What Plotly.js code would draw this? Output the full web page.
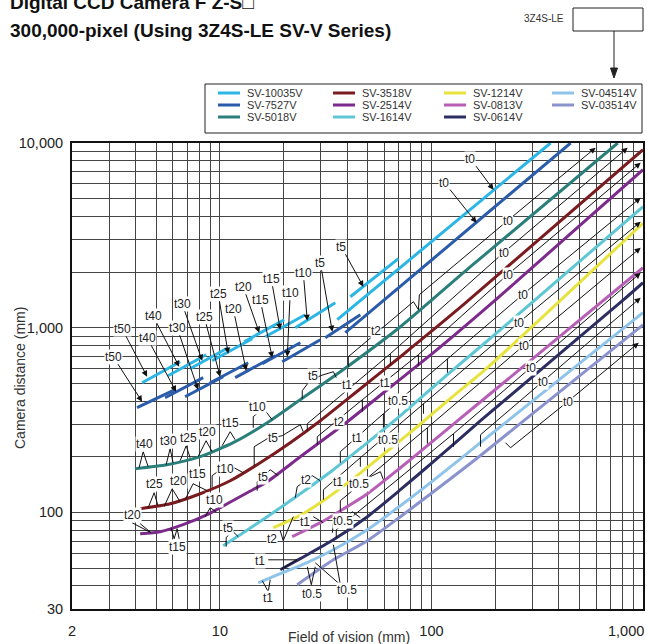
<!DOCTYPE html>
<html><head><meta charset="utf-8">
<script src="https://cdn.plot.ly/plotly-3.0.1.min.js"></script>
<style>html,body{margin:0;padding:0;background:#fff}#chart{width:647px;height:644px}</style>
</head><body><div id="chart"></div>
<script>
// ---------- data (field of vision mm, camera distance mm) ----------
const lensNames = ['SV-10035V','SV-7527V','SV-5018V','SV-3518V','SV-2514V','SV-1614V','SV-1214V','SV-0813V','SV-0614V','SV-04514V','SV-03514V'];
const lensColors = ['#2bb6e6','#2a5caa','#2a7f7b','#7a1b1f','#7c2b8c','#5ec6d4','#e7e33c','#b75fb6','#2c2e62','#8fc4ea','#8b93cf'];

const sv10035X = [4.29,6.49,null,5.69,8.61,null,7.23,10.95,null,9.19,14.22,null,13.03,20.15,null,16.38,25.33,null,22.72,35.13,null,41.37,69.8,null,35.9,365.8];
const sv10035Y = [503.7,654.5,null,549.7,714.3,null,599.8,779.3,null,662.7,871.7,null,840,1105,null,894,1176,null,1000,1366,null,1472,2364,null,1105,10000];
const sv7527X = [4.06,6.14,null,5.51,8.34,null,6.85,10.36,null,9.00,13.61,null,11.81,18.27,null,15.86,23.99,null,19.71,29.84,null,31.5,46.13,null,39.15,454.9];
const sv7527Y = [368.9,461.8,null,417.8,536.3,null,422.9,543.0,null,503.7,646.3,null,536.3,705.2,null,638.3,829.3,null,654.5,861.1,null,882.5,1176,null,939.5,10000];
const sv5018X = [3.97,5.63,8.07,11.56,16.74,23.99,40.04,71.33,152.9,760];
const sv5018Y = [172.5,181.1,200.3,238.5,306,407.7,615,1012,2139,10000];
const sv3518X = [4.20,5.82,8.07,11.19,15.51,21.51,29.84,46.13,71.33,141.7,1000];
const sv3518Y = [104.7,111.4,126.2,148.4,185.8,238.5,313.7,467.4,696.6,1332,9200];
const sv2514X = [4.20,5.22,6.70,8.71,10.83,13.47,16.74,23.99,40.04,66.1,102.2,196.6,1000];
const sv2514Y = [76.7,78.6,85.8,97.2,111.4,127.8,146.6,200.3,309.8,491.2,732.2,1383,7170];
const sv1614X = [10.36,12.48,16.74,23.99,34.4,49.8,71.33,119.0,212.1,1000];
const sv1614Y = [66.0,75.6,94.8,126.2,170.3,238.5,334.1,556.7,975.4,4520];
const sv1214X = [17.87,23.99,29.84,42.7,59.3,85.9,123.0,184.1,1000];
const sv1214Y = [82.6,96.4,112.8,152.5,206.6,291.8,414.5,608.5,3676];
const sv0813X = [21.98,23.99,29.84,35.9,49.8,71.33,95.7,127.1,212.1,1000];
const sv0813Y = [73.9,77.6,88.0,99.7,126.2,174.6,229.7,300.5,488.0,2113];
const sv0614X = [19.29,23.99,34.4,49.8,71.33,102.2,170.6,810.3,1000];
const sv0614Y = [48.9,56.2,71.1,94.8,132.7,188.2,313.7,1418,1752];
const sv04514X = [15.18,19.29,23.99,34.4,49.8,71.33,102.2,170.6,1000];
const sv04514Y = [41.6,46.6,51.5,62.8,80.6,108.7,149.1,238.5,1206];
const sv03514X = [23.2,34.4,49.8,71.33,102.2,170.6,1000];
const sv03514Y = [40.6,55.4,70.3,94.8,129.4,203.4,1037];

const lensX = [sv10035X,sv7527X,sv5018X,sv3518X,sv2514X,sv1614X,sv1214X,sv0813X,sv0614X,sv04514X,sv03514X];
const lensY = [sv10035Y,sv7527Y,sv5018Y,sv3518Y,sv2514Y,sv1614Y,sv1214Y,sv0813Y,sv0614Y,sv04514Y,sv03514Y];

// axis ticks
const xGrid = [2,3,4,5,6,7,8,9,10,20,30,40,50,60,70,80,90,100,200,300,400,500,600,700,800,900,1000];
const xLabels = {2:'2',10:'10',100:'100'};
const xLastLabel = '1,000';
const yGrid = [30,40,50,60,70,80,90,100,200,300,400,500,600,700,800,900,1000,2000,3000,4000,5000,6000,7000,8000,9000,10000];
const yLabels = {30:'30',100:'100',1000:'1,000',10000:'10,000'};

// labels with arrows: text, label position, arrow tip (data units)
const arrowText   = ['t50','t40','t30','t25','t20','t15','t10','t5','t0', 't50','t40','t30','t25','t20','t15','t10','t5','t0'];
const arrowLabelX = [3.45,4.83,6.63,9.82,12.89,17.49,24.79,37.51,152.9, 3.13,4.53,6.28,8.43,11.56,15.51,21.51,29.84,115.2];
const arrowLabelY = [987.6,1161,1349,1528,1667,1842,1985,2745,8222, 696.6,882.5,1000,1147,1268,1418,1547,2248,6098];
const arrowTipX   = [4.53,6.42,8.25,10.95,15.35,19.29,25.89,47.66,196.6, 4.29,6.21,7.89,10.03,13.32,17.68,20.82,34.01,163.3];
const arrowTipY   = [543.0,615,662.7,723.2,939.5,975.4,1091,1667,5588, 397.6,450.4,461.8,543.0,585,688,696.6,951.3,3703];

// t0 labels with arrows to the right edge
const t0LabelX = [228.9,219.1,228.9,269.6,258.1,272.5,294.2,335.2,440.3];
const t0LabelY = [3796,2547,1936,1509,1064,799.2,607.4,510.2,397.6];
const t0TipX   = [597.2,846.6,975.2,975.2,975.2,975.2,975.2,975.2,954.4];
const t0TipY   = [9432,9432,7823,5056,3749,2711,1985,1454,829.3];

// plain labels
const tubeText = ['t40','t30','t25','t20','t15','t10','t5','t2', 't25','t20','t15','t10','t5','t1', 't20','t15','t10','t5',
  't1','t0.5','t2','t1','t0.5','t5','t2','t1','t0.5','t2','t1','t0.5','t1','t1','t0.5','t0.5'];
const tubeX = [4.38,5.69,7.08,8.71,11.19,15.01,27.64,54.9, 4.89,6.35,7.81,10.59,17.87,40.04, 3.85,6.28,9.40,16.03,
  60.6,69.74,36.7,44.64,62.6,10.95,25.61,36.3,45.63,17.68,25.33,38.32,15.51,16.93,27.34,40.04];
const tubeY = [235.6,244.4,253.8,273.5,305.9,373.5,549.7,963.4, 143.0,148.4,162.0,172.5,253.8,491.2, 97.2,65.2,117.2,156.1,
  503.7,402.6,309.8,253.8,247.5,82.6,150.3,146.6,143.0,72.0,89.1,90.2,54.8,34.5,36.3,38.1];

// leader lines (null separated)
const leaderX = [
  4.15,4.34,4.58,null, 5.57,5.82,6.01,null, 6.49,6.93,7.23,null, 7.89,8.61,9.19,null, 10.25,11.19,11.81,null,
  14.38,14.38,15.51,16.38,17.68,null, 24.52,24.52,26.18,29.84,34.4,35.5,null, 40.47,40.47,82.2,86.8,87.7,228.9,null,
  4.58,4.89,5.10,null, 5.45,5.95,6.49,null, 6.85,7.47,8.71,null, 9.19,9.19,10.03,11.43,12.89,null,
  14.53,14.53,16.74,19.71,23.99,24.77,null, 25.89,25.89,63.97,219.1,null, 63.97,63.97,null,
  3.85,4.73,4.20,null, 5.88,6.08,6.28,6.42,null, 8.52,9.00,9.60,null, 15.01,15.01,15.86,17.30,18.87,null,
  28.87,28.87,47.15,86.8,228.9,null, 47.15,47.15,null, 86.8,86.8,null,
  37.10,37.10,59.28,119.0,269.6,null, 59.28,59.28,null, 119.0,119.0,null,
  22.72,23.2,25.61,27.34,29.84,null, 10.71,10.71,11.19,null, 11.56,12.21,null,
  30.86,30.86,46.13,91.7,258.1,null, 46.13,46.13,null, 91.7,91.7,null,
  37.10,37.10,95.7,272.5,null, 95.7,95.7,null, 51.45,57.37,59.28,null, 27.64,30.83,null,
  34.01,34.4,35.9,null, 41.37,42.27,46.13,null,
  35.5,35.5,127.1,294.2,null, 127.1,127.1,null,
  170.6,170.6,335.2,null, 223.9,236.5,440.3,null,
  19.29,19.93,22.23,null, 16.93,23.2,19.71,null, 15.86,16.93,17.30,null, 25.89,27.05,28.24,null, 28.24,37.10,34.4];
const leaderY = [
  174.6,213.2,176.8,null, 181.1,221.2,185.8,null, 190.5,229.7,197.8,null, 200.3,244.4,213.2,null, 229.7,273.5,247.5,null,
  287.4,329.7,355.3,355.3,317.6,null, 412.8,456.1,503.7,549.7,577.9,536.3,null, 615.0,696.6,1383,1252,1509,3796,null,
  106.0,127.8,108.7,null, 107.4,134.3,114.2,null, 117.2,143.0,131.1,null, 136.0,158.0,170.3,176.8,164.1,null,
  178.9,226.8,250.6,260.2,298.5,273.5,null, 276.9,302.0,723.2,2547,null, 723.2,630.3,null,
  87.9,77.6,86.9,null, 82.6,72.0,81.6,72.0,null, 94.8,106.0,100.9,null, 131.1,146.6,156.1,170.3,158.0,null,
  232.5,257.0,407.7,714.3,1936,null, 407.7,350.9,null, 714.3,622.6,null,
  185.8,213.2,342.1,679.4,1509,null, 342.1,287.4,null, 679.4,570.7,null,
  120.2,137.7,150.3,158.0,148.4,null, 65.2,72.9,77.6,null, 78.6,73.9,null,
  117.2,132.7,197.8,387.9,1064,null, 197.8,176.8,null, 387.9,342.1,null,
  100.9,115.7,287.4,799.2,null, 287.4,235.6,null, 156.1,166.1,150.3,null, 94.8,87.9,null,
  77.6,87.9,90.2,null, 98.4,100.9,93.6,null,
  72.9,80.6,266.7,607.4,null, 266.7,226.8,null,
  226.8,263.4,510.2,null, 238.5,223.9,397.6,null,
  79.6,70.3,94.8,null, 55.4,55.4,49.6,null, 42.7,37.2,43.2,null, 50.8,40.6,50.8,null, 53.4,40.6,66.8];

// ---------- layout helpers (pixel -> paper, plot area 72..643 x 143..609) ----------
const PL = 72, PR = 643, PT = 143, PB = 609;
const px = v => (v - PL) / (PR - PL);
const py = v => (PB - v) / (PB - PT);
const L = Math.log10;

const FONT = 'Liberation Sans, Arial, Helvetica, sans-serif';
const LBL = {family: FONT, size: 12, color: '#222'};
const TICKFONT = {family: FONT, size: 14.5, color: '#222'};

const traces = lensNames.map((n, i) => {
  const segmented = lensX[i].includes(null);
  return {
    type: 'scatter', mode: 'lines', name: n, x: lensX[i], y: lensY[i],
    line: {color: lensColors[i], width: 3, shape: segmented ? 'linear' : 'spline', smoothing: 0.6},
    connectgaps: false, showlegend: false, hoverinfo: 'skip'
  };
});
traces.push({type:'scatter', mode:'lines', x: leaderX, y: leaderY, line:{color:'#111', width:1},
  connectgaps:false, showlegend:false, hoverinfo:'skip'});

const annotations = [];
arrowText.forEach((t, i) => annotations.push({
  x: L(arrowTipX[i]), y: L(arrowTipY[i]), ax: L(arrowLabelX[i]), ay: L(arrowLabelY[i]), axref:'x', ayref:'y',
  text: t, showarrow: true, arrowhead: 2, arrowsize: 1.2, arrowwidth: 1, arrowcolor: '#111',
  font: LBL, bgcolor: '#fff', borderpad: 0
}));
t0LabelX.forEach((v, i) => annotations.push({
  x: L(t0TipX[i]), y: L(t0TipY[i]), ax: L(v), ay: L(t0LabelY[i]), axref:'x', ayref:'y',
  text: 't0', showarrow: true, arrowhead: 2, arrowsize: 1.2, arrowwidth: 1, arrowcolor: '#111',
  font: LBL, bgcolor: '#fff', borderpad: 0
}));
tubeText.forEach((t, i) => annotations.push({
  x: L(tubeX[i]), y: L(tubeY[i]), text: t, showarrow: false,
  font: LBL, bgcolor: '#fff', borderpad: 0
}));

// last x tick label, kept inside the page
annotations.push({xref:'paper', yref:'paper', x: px(646), y: py(631), xanchor:'right', yanchor:'middle', showarrow:false,
  text: xLastLabel, font: TICKFONT});

// titles
annotations.push({xref:'paper', yref:'paper', x: px(8), y: py(2), xanchor:'left', yanchor:'middle', showarrow:false,
  text:'<b>Digital CCD Camera F Z-S\u25A1</b>', font:{family: FONT, size: 19, color:'#111'}});
annotations.push({xref:'paper', yref:'paper', x: px(8), y: py(30), xanchor:'left', yanchor:'middle', showarrow:false,
  text:'<b>300,000-pixel (Using 3Z4S-LE SV-V Series)</b>', font:{family: FONT, size: 19, color:'#111'}});
annotations.push({xref:'paper', yref:'paper', x: px(566), y: py(19), xanchor:'right', yanchor:'middle', showarrow:false,
  text:'3Z4S-LE', font:{family: FONT, size: 10, color:'#333'}});
annotations.push({xref:'paper', yref:'paper', x: px(20), y: py(378), xanchor:'center', yanchor:'middle', showarrow:false,
  textangle: -90, text:'Camera distance (mm)', font:{family: FONT, size: 14, color:'#333'}});
annotations.push({xref:'paper', yref:'paper', x: px(349), y: py(637), xanchor:'center', yanchor:'middle', showarrow:false,
  text:'Field of vision (mm)', font:{family: FONT, size: 14, color:'#333'}});

// manual legend: 3 rows x 4 columns (column-major order)
const legCols = [218, 333, 444, 552];
const legRows = [93, 105, 117];
const shapes = [
  {type:'rect', xref:'paper', yref:'paper', x0: px(205), x1: px(642), y0: py(133), y1: py(84), line:{color:'#222', width:1}, fillcolor:'#fff'},
  {type:'rect', xref:'paper', yref:'paper', x0: px(573), x1: px(643), y0: py(31), y1: py(8), line:{color:'#222', width:1}},
  {type:'line', xref:'paper', yref:'paper', x0: px(614), x1: px(614), y0: py(31), y1: py(70), line:{color:'#222', width:1}},
  {type:'path', xref:'paper', yref:'paper', path:`M ${px(610.5)} ${py(68)} L ${px(617.5)} ${py(68)} L ${px(614)} ${py(78)} Z`, fillcolor:'#222', line:{color:'#222', width:1}}
];
lensNames.forEach((n, i) => {
  const c = Math.floor(i / 3), r = i % 3;
  const x0 = legCols[c], y0 = legRows[r];
  shapes.push({type:'line', xref:'paper', yref:'paper', x0: px(x0), x1: px(x0 + 22), y0: py(y0), y1: py(y0), line:{color: lensColors[i], width: 3}});
  annotations.push({xref:'paper', yref:'paper', x: px(x0 + 27), y: py(y0), xanchor:'left', yanchor:'middle', showarrow:false,
    text: n, font:{family: FONT, size: 11, color:'#333'}});
});

const layout = {
  width: 647, height: 644, margin: {l: PL, r: 647 - PR, t: PT, b: 644 - PB},
  paper_bgcolor: '#fff', plot_bgcolor: '#fff', showlegend: false, hovermode: false,
  xaxis: {type:'log', range:[L(2), L(1000)], tickvals: xGrid, ticktext: xGrid.map(v => xLabels[v] || ''),
    showgrid: true, gridcolor:'#444', gridwidth: 1, ticks:'', showline: true, linecolor:'#111', linewidth: 2, mirror: true,
    zeroline: false, ticklabelstandoff: 8, tickfont: TICKFONT},
  yaxis: {type:'log', range:[L(30), 4], tickvals: yGrid, ticktext: yGrid.map(v => yLabels[v] || ''),
    showgrid: true, gridcolor:'#444', gridwidth: 1, ticks:'', showline: true, linecolor:'#111', linewidth: 2, mirror: true,
    zeroline: false, ticklabelstandoff: 4, tickfont: TICKFONT},
  annotations, shapes
};
Plotly.newPlot('chart', traces, layout, {staticPlot: true});
</script></body></html>
